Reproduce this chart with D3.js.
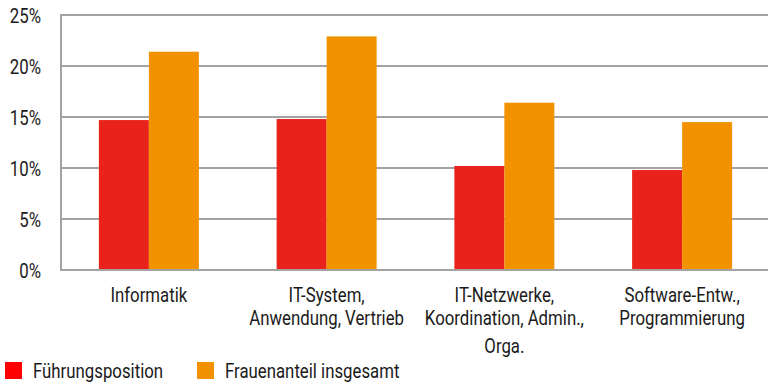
<!DOCTYPE html>
<html>
<head>
<meta charset="utf-8">
<script src="https://cdn.jsdelivr.net/npm/d3@7"></script>
<style>
  html, body { margin: 0; padding: 0; background: #fff; }
  svg { display: block; font-family: Roboto, "Liberation Sans", sans-serif; }
</style>
</head>
<body>
<svg id="chart" width="768" height="384"></svg>
<script>
const categories = [
  ["Informatik"],
  ["IT-System,", "Anwendung, Vertrieb"],
  ["IT-Netzwerke,", "Koordination, Admin.,", "Orga."],
  ["Software-Entw.,", "Programmierung"]
];
const seriesNames = ["Führungsposition", "Frauenanteil insgesamt"];
const fuehrung = [14.7, 14.8, 10.2, 9.8];
const gesamt = [21.4, 22.9, 16.4, 14.5];
const yTicks = [0, 5, 10, 15, 20, 25];
const colors = ["#e9231b", "#f39200"];
const legendColors = ["#ff0000", "#f39200"];

const values = [fuehrung, gesamt];
const catKeys = categories.map(c => c.join(" "));
const SX = 0.84; // horizontal condensing of the text
const FS = 20;
const textColor = "#1a1a1a";

const svg = d3.select("#chart");
const margin = { left: 61, top: 15, bottom: 270 };

const y = d3.scaleLinear().domain([0, 25]).range([margin.bottom, margin.top]);
const x0 = d3.scaleBand().domain(catKeys).range([60, 771]).padding(0);
const barW = 50;
const x1 = d3.scaleBand().domain(seriesNames)
  .range([x0.bandwidth() / 2 - barW, x0.bandwidth() / 2 + barW]).padding(0);

const gridColor = "#a3a3a3";

// gridlines
svg.append("g").selectAll("line").data(yTicks).join("line")
  .attr("x1", margin.left).attr("x2", 768)
  .attr("y1", d => y(d)).attr("y2", d => y(d))
  .attr("stroke", gridColor).attr("stroke-width", 2);

// left axis line
svg.append("line")
  .attr("x1", margin.left).attr("x2", margin.left)
  .attr("y1", y(25) - 1).attr("y2", y(0) + 1)
  .attr("stroke", gridColor).attr("stroke-width", 2);

// y tick labels
svg.append("g").selectAll("text").data(yTicks).join("text")
  .attr("transform", d => `translate(41,${y(d) + 8}) scale(${SX},1)`)
  .attr("text-anchor", "end")
  .attr("font-size", FS).attr("fill", textColor)
  .text(d => d + "%");

// bars
const groups = svg.append("g").selectAll("g").data(catKeys).join("g")
  .attr("transform", d => `translate(${x0(d)},0)`);
groups.selectAll("rect")
  .data((d, i) => seriesNames.map((s, j) => ({ s, v: values[j][i], j })))
  .join("rect")
  .attr("x", d => x1(d.s))
  .attr("width", x1.bandwidth())
  .attr("y", d => y(d.v))
  .attr("height", d => y(0) - y(d.v))
  .attr("fill", d => colors[d.j]);

// redraw baseline over bars
svg.append("line")
  .attr("x1", margin.left).attr("x2", 768)
  .attr("y1", y(0)).attr("y2", y(0))
  .attr("stroke", gridColor).attr("stroke-width", 2);

// category labels
const lineOffsets = [0, 23, 51];
const labels = svg.append("g").selectAll("text").data(categories).join("text")
  .attr("text-anchor", "middle")
  .attr("font-size", FS).attr("fill", textColor)
  .attr("transform", (d, i) => `translate(${x0(catKeys[i]) + x0.bandwidth() / 2},302) scale(${SX},1)`);
labels.selectAll("tspan").data(d => d).join("tspan")
  .attr("x", 0).attr("y", (d, i) => lineOffsets[i])
  .text(d => d);

// legend
const legendX = [5, 197];
const leg = svg.append("g").selectAll("g").data(seriesNames).join("g")
  .attr("transform", (d, i) => `translate(${legendX[i]},362)`);
leg.append("rect").attr("width", 17).attr("height", 17)
  .attr("fill", (d, i) => legendColors[i]);
leg.append("text")
  .attr("transform", `translate(28,16) scale(${SX},1)`)
  .attr("font-size", FS).attr("fill", textColor)
  .text(d => d);
</script>
</body>
</html>
